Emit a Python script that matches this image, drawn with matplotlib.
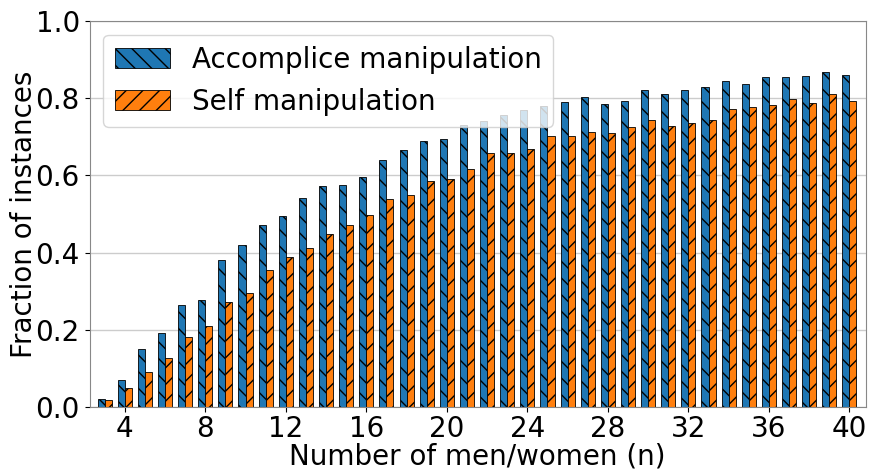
import matplotlib
matplotlib.use('Agg')
import matplotlib.pyplot as plt
import numpy as np

n_values = list(range(3, 41))
accomplice = [0.022, 0.071, 0.151, 0.192, 0.265, 0.278, 0.381, 0.419, 0.470, 0.494,
              0.541, 0.571, 0.575, 0.596, 0.640, 0.665, 0.689, 0.694, 0.729, 0.741,
              0.755, 0.768, 0.778, 0.790, 0.803, 0.783, 0.791, 0.821, 0.811, 0.821,
              0.827, 0.845, 0.837, 0.853, 0.853, 0.858, 0.866, 0.860]
self_manip = [0.019, 0.050, 0.092, 0.128, 0.182, 0.210, 0.273, 0.296, 0.355, 0.389,
              0.412, 0.447, 0.472, 0.498, 0.539, 0.548, 0.584, 0.590, 0.617, 0.658,
              0.658, 0.668, 0.701, 0.701, 0.711, 0.708, 0.724, 0.743, 0.728, 0.735,
              0.743, 0.772, 0.777, 0.781, 0.796, 0.788, 0.809, 0.793]
xtick_vals = [4, 8, 12, 16, 20, 24, 28, 32, 36, 40]

x = np.array(n_values)
w = 0.35

fig, ax = plt.subplots(figsize=(8.69, 4.69), dpi=100)
fig.subplots_adjust(left=0.103, right=0.996, top=0.956, bottom=0.132)

ax.yaxis.grid(True, color='#cccccc', linewidth=1)
ax.set_axisbelow(True)

ax.bar(x - w/2, accomplice, w, color='#1f77b4', edgecolor='black', linewidth=0.6,
       hatch='\\\\', label='Accomplice manipulation')
ax.bar(x + w/2, self_manip, w, color='#ff7f0e', edgecolor='black', linewidth=0.6,
       hatch='//', label='Self manipulation')

ax.set_xlim(2.25, 40.8)
ax.set_ylim(0, 1.0)
ax.set_xticks(xtick_vals)
ax.set_yticks([0.0, 0.2, 0.4, 0.6, 0.8, 1.0])
ax.tick_params(labelsize=20)
ax.tick_params(axis='x', pad=2.5)
for s in ax.spines.values():
    s.set_color('#888888')

ax.set_xlabel('Number of men/women (n)', fontsize=20, labelpad=-1)
ax.set_ylabel('Fraction of instances', fontsize=20, labelpad=-2)
ax.legend(loc='upper left', fontsize=20, framealpha=0.8)

plt.savefig('out.png', dpi=100)
